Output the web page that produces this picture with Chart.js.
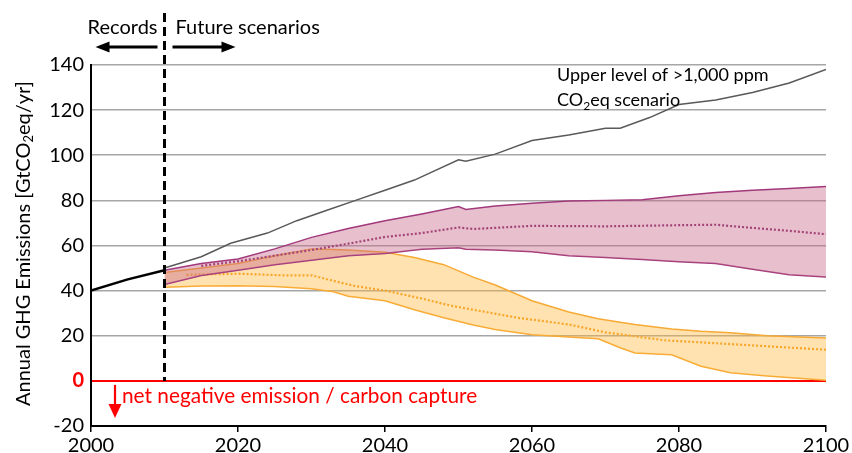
<!DOCTYPE html>
<html>
<head>
<meta charset="utf-8">
<script src="https://cdn.jsdelivr.net/npm/chart.js@4.4.1/dist/chart.umd.min.js"></script>
<style>
html,body{margin:0;padding:0;background:#fff;}
canvas{display:block;}
</style>
</head>
<body>
<canvas id="c" width="852" height="453"></canvas>
<script>
// ---- data ----
const splitYear = 2010;
const xTickLabels = [2000, 2020, 2040, 2060, 2080, 2100];
const yTickLabels = [-20, 0, 20, 40, 60, 80, 100, 120, 140];

const recordYears  = [2000, 2005, 2010];
const recordValues = [40, 45, 49];

const highYears  = [2010, 2015, 2019, 2024, 2028, 2032, 2036, 2040, 2044, 2050, 2051, 2055, 2060, 2065, 2070, 2072, 2076, 2080, 2085, 2090, 2095, 2100];
const highValues = [50, 55, 61, 65.5, 71, 75.5, 80, 84.5, 89, 98, 97.3, 100.5, 106.5, 109, 112, 112, 116.7, 122.5, 124.5, 127.8, 132, 138];

const purpleYears = [2010, 2015, 2020, 2025, 2030, 2035, 2040, 2045, 2050, 2051, 2055, 2060, 2065, 2070, 2075, 2080, 2085, 2090, 2095, 2100];
const purpleUpper = [49, 52, 54, 58.5, 63.6, 67.5, 71, 74, 77.3, 76, 77.5, 78.7, 79.7, 80, 80.3, 82, 83.5, 84.5, 85.3, 86.2];
const purpleLower = [42.7, 46.7, 49, 51.5, 53.5, 55.5, 56.5, 58.3, 59, 58.3, 58, 57.2, 55.5, 54.7, 53.8, 52.8, 52, 49.5, 47, 46];
const purpleMidYears  = [2015, 2020, 2025, 2030, 2035, 2040, 2045, 2050, 2052, 2060, 2070, 2080, 2085, 2090, 2095, 2100];
const purpleMidValues = [51, 53, 55.5, 58, 60.8, 63.8, 65.5, 68, 67.3, 68.7, 68.5, 69, 69.2, 67.8, 66.5, 65];

const orangeYears = [2010, 2015, 2020, 2025, 2030, 2033, 2035, 2040, 2044, 2048, 2052, 2055, 2060, 2065, 2069, 2072, 2074, 2079, 2083, 2087, 2092, 2100];
const orangeUpper = [48, 50, 52, 55.5, 58.5, 58.2, 58, 57, 54.7, 51.5, 46, 42.5, 35.5, 30.5, 27.5, 26, 25, 23, 22, 21.3, 20, 19];
const orangeLower = [41.5, 42, 42.2, 41.8, 40.8, 39.5, 37.5, 35.5, 31.5, 28, 24.8, 22.8, 20.4, 19.5, 18.7, 14.7, 12.4, 11.6, 6.5, 3.6, 2.2, 0.3];
const orangeMidYears  = [2013, 2020, 2026, 2030, 2034, 2036, 2040, 2045, 2049, 2058, 2065, 2070, 2078, 2087, 2100];
const orangeMidValues = [47, 47.5, 46.8, 46.8, 43.5, 42, 40, 36.5, 33.3, 28, 25, 21.5, 18, 16.3, 13.8];

const pts = (xs, ys) => xs.map((x, i) => ({x: x, y: ys[i]}));

// ---- styles ----
const FONT = 'Lato, "Open Sans", sans-serif';
const purpleLine = '#a2397c';
const purpleDot  = '#8e2c6c';
const purpleFill = 'rgba(198,103,135,0.42)';
const orangeLine = '#f7aa35';
const orangeDot  = '#f39a1e';
const orangeFill = 'rgba(255,183,58,0.40)';

const base = {pointRadius: 0, pointHoverRadius: 0, tension: 0, fill: false};

const datasets = [
  Object.assign({}, base, {label: 'high', data: pts(highYears, highValues), borderColor: '#595959', borderWidth: 1.5}),
  Object.assign({}, base, {label: 'records', data: pts(recordYears, recordValues), borderColor: '#000', borderWidth: 2.5}),
  Object.assign({}, base, {label: 'purpleUpper', data: pts(purpleYears, purpleUpper), borderColor: purpleLine, borderWidth: 1.5, fill: {target: 3}, backgroundColor: purpleFill}),
  Object.assign({}, base, {label: 'purpleLower', data: pts(purpleYears, purpleLower), borderColor: purpleLine, borderWidth: 1.5}),
  Object.assign({}, base, {label: 'purpleMid', data: pts(purpleMidYears, purpleMidValues), borderColor: purpleDot, borderWidth: 2.2, borderDash: [2, 2]}),
  Object.assign({}, base, {label: 'orangeUpper', data: pts(orangeYears, orangeUpper), borderColor: orangeLine, borderWidth: 1.5, fill: {target: 6}, backgroundColor: orangeFill}),
  Object.assign({}, base, {label: 'orangeLower', data: pts(orangeYears, orangeLower), borderColor: orangeLine, borderWidth: 1.5}),
  Object.assign({}, base, {label: 'orangeMid', data: pts(orangeMidYears, orangeMidValues), borderColor: orangeDot, borderWidth: 2.2, borderDash: [2, 2]})
];

function arrow(ctx, x1, y, x2, headLen, halfH, width, color) {
  const dir = Math.sign(x2 - x1);
  ctx.save();
  ctx.strokeStyle = color; ctx.fillStyle = color; ctx.lineWidth = width; ctx.setLineDash([]);
  ctx.beginPath(); ctx.moveTo(x1, y); ctx.lineTo(x2 - dir * headLen * 0.8, y); ctx.stroke();
  ctx.beginPath(); ctx.moveTo(x2, y); ctx.lineTo(x2 - dir * headLen, y - halfH); ctx.lineTo(x2 - dir * headLen, y + halfH); ctx.closePath(); ctx.fill();
  ctx.restore();
}

const annotations = {
  id: 'annotations',
  afterDatasetsDraw(chart) {
    const ctx = chart.ctx;
    const xs = chart.scales.x, ys = chart.scales.y;
    const sx = xs.getPixelForValue(splitYear);
    const y0 = ys.getPixelForValue(0);

    // dashed separator (stops at the zero line)
    ctx.save();
    ctx.strokeStyle = '#000'; ctx.lineWidth = 3; ctx.setLineDash([9, 5]);
    ctx.beginPath(); ctx.moveTo(sx, 13); ctx.lineTo(sx, y0); ctx.stroke();
    ctx.restore();

    ctx.save();
    ctx.fillStyle = '#000';
    ctx.font = '20px ' + FONT;
    ctx.textBaseline = 'middle';
    ctx.textAlign = 'right';
    ctx.fillText('Records', sx - 7, 28);
    ctx.textAlign = 'left';
    ctx.fillText('Future scenarios', sx + 11, 28);
    ctx.restore();
    arrow(ctx, sx - 7, 47, sx - 69, 14, 5.5, 3, '#000');
    arrow(ctx, sx + 8, 47, sx + 71, 14, 5.5, 3, '#000');

    // scenario annotation
    ctx.save();
    ctx.fillStyle = '#000';
    ctx.font = '18px ' + FONT;
    ctx.textBaseline = 'alphabetic';
    ctx.textAlign = 'left';
    const ax = 557;
    ctx.fillText('Upper level of >1,000 ppm', ax, 81);
    let w = ctx.measureText('CO').width;
    ctx.fillText('CO', ax, 106);
    ctx.font = '12px ' + FONT;
    ctx.fillText('2', ax + w, 110);
    const w2 = ctx.measureText('2').width;
    ctx.font = '18px ' + FONT;
    ctx.fillText('eq scenario', ax + w + w2, 106);
    ctx.restore();

    // negative emission note
    ctx.save();
    ctx.fillStyle = '#ff0000';
    ctx.strokeStyle = '#ff0000';
    ctx.font = '20.8px ' + FONT;
    ctx.textBaseline = 'middle';
    ctx.textAlign = 'left';
    ctx.fillText('net negative emission / carbon capture', 122, y0 + 15);
    ctx.lineWidth = 2.2;
    ctx.beginPath(); ctx.moveTo(115, y0 + 4); ctx.lineTo(115, y0 + 28); ctx.stroke();
    ctx.beginPath(); ctx.moveTo(115, y0 + 37); ctx.lineTo(108.5, y0 + 23); ctx.lineTo(121.5, y0 + 23); ctx.closePath(); ctx.fill();
    ctx.restore();
  },
  afterDraw(chart) {
    // y axis title with subscript
    const ctx = chart.ctx;
    const area = chart.chartArea;
    const p1 = 'Annual GHG Emissions [GtCO', p2 = '2', p3 = 'eq/yr]';
    ctx.save();
    ctx.fillStyle = '#000';
    ctx.font = '20px ' + FONT;
    const w1 = ctx.measureText(p1).width, w3 = ctx.measureText(p3).width;
    ctx.font = '13px ' + FONT;
    const w2 = ctx.measureText(p2).width;
    const total = w1 + w2 + w3;
    ctx.translate(24, (area.top + area.bottom) / 2 - 2);
    ctx.rotate(-Math.PI / 2);
    ctx.textBaseline = 'middle';
    ctx.textAlign = 'left';
    let x = -total / 2;
    ctx.font = '20px ' + FONT;
    ctx.fillText(p1, x, 0); x += w1;
    ctx.font = '13px ' + FONT;
    ctx.fillText(p2, x, 5); x += w2;
    ctx.font = '20px ' + FONT;
    ctx.fillText(p3, x, 0);
    ctx.restore();
  }
};

new Chart(document.getElementById('c'), {
  type: 'line',
  data: {datasets: datasets},
  plugins: [annotations],
  options: {
    responsive: false,
    animation: false,
    devicePixelRatio: 1,
    layout: {padding: {top: 65, right: 26, left: 0, bottom: 0}},
    plugins: {legend: {display: false}, tooltip: {enabled: false}},
    scales: {
      x: {
        type: 'linear',
        min: xTickLabels[0],
        max: xTickLabels[xTickLabels.length - 1],
        afterBuildTicks: (s) => { s.ticks = xTickLabels.map(v => ({value: v})); },
        afterFit: (s) => { s.height = 27; },
        ticks: {callback: (v) => String(v), color: '#000', font: {size: 20, family: FONT}, padding: 2, maxRotation: 0},
        grid: {drawOnChartArea: false, drawTicks: true, tickLength: 6, color: '#000', lineWidth: 1.5},
        border: {color: '#000', width: 2}
      },
      y: {
        min: yTickLabels[0],
        max: yTickLabels[yTickLabels.length - 1],
        afterBuildTicks: (s) => { s.ticks = yTickLabels.map(v => ({value: v})); },
        afterFit: (s) => { s.width = 91; },
        ticks: {
          color: (c) => c.tick && c.tick.value === 0 ? '#ff0000' : '#000',
          font: (c) => ({size: 20, family: FONT, weight: (c.tick && c.tick.value === 0) ? 'bold' : 'normal'}),
          padding: 7
        },
        grid: {
          drawTicks: false,
          color: (c) => c.tick && c.tick.value === 0 ? '#ff0000' : (c.tick && c.tick.value === yTickLabels[0] ? 'rgba(0,0,0,0)' : '#a6a6a6'),
          lineWidth: (c) => c.tick && c.tick.value === 0 ? 2 : 1.6
        },
        border: {color: '#000', width: 2}
      }
    }
  }
});
</script>
</body>
</html>
